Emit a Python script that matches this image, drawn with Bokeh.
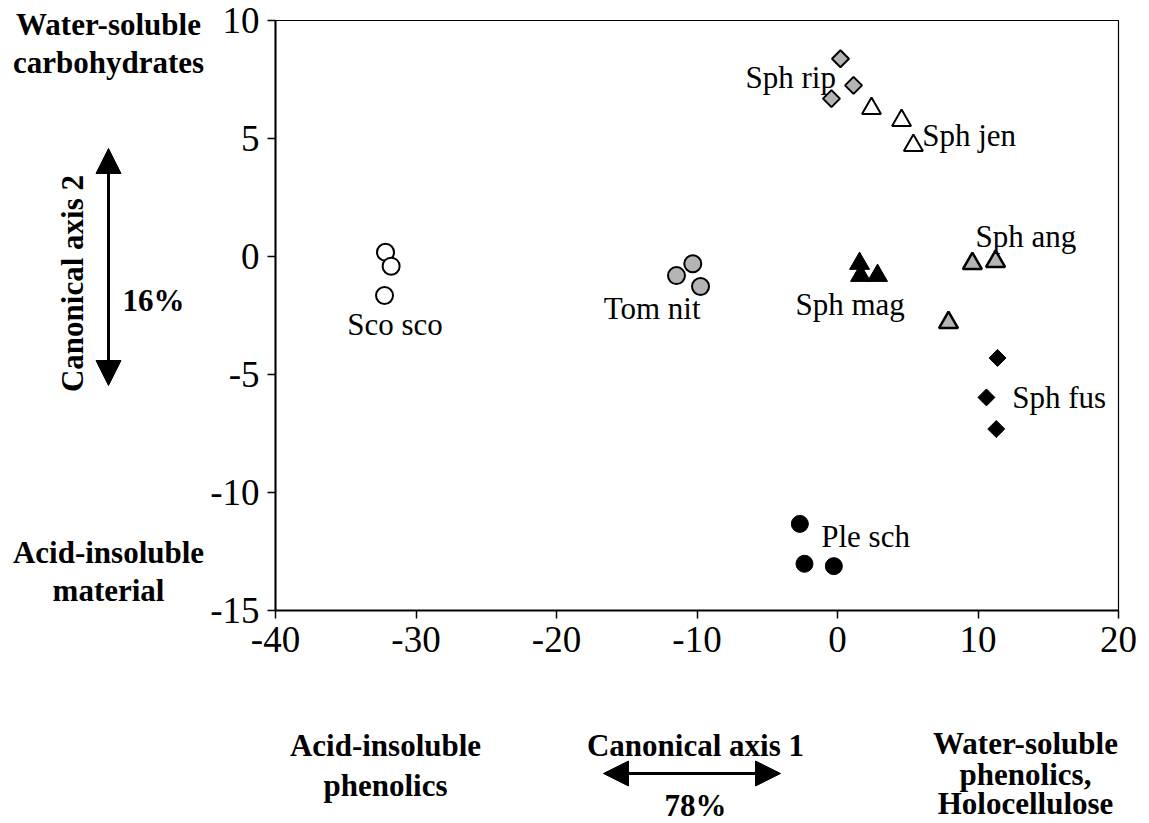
from bokeh.plotting import figure
from bokeh.layouts import column, row
from bokeh.models import (ColumnDataSource, Range1d, FixedTicker, Label, Arrow,
                          NormalHead)
from bokeh.core.properties import value
from bokeh.embed import file_html
from bokeh.resources import INLINE
import math

# Canonical scores per species (axis 1, axis 2)
sco_x = [-32.17, -31.77, -32.24]
sco_y = [0.18, -0.41, -1.65]
tom_x = [-10.3, -11.46, -9.75]
tom_y = [-0.31, -0.81, -1.27]
rip_x = [0.21, 1.14, -0.43]
rip_y = [8.38, 7.25, 6.69]
jen_x = [2.42, 4.56, 5.4]
jen_y = [6.27, 5.76, 4.70]
mag_x = [1.57, 1.64, 2.85]
mag_y = [-0.30, -0.81, -0.81]
ang_x = [9.6, 11.25, 7.9]
ang_y = [-0.30, -0.21, -2.8]
fus_x = [11.39, 10.6, 11.3]
fus_y = [-4.30, -5.97, -7.31]
ple_x = [-2.68, -2.35, -0.26]
ple_y = [-11.33, -13.02, -13.12]

# Species names and where each name is written
species = ["Sco sco", "Tom nit", "Sph rip", "Sph jen", "Sph mag",
           "Sph ang", "Sph fus", "Ple sch"]
name_x = [-34.9, -9.75, -6.55, 6.03, -2.99, 9.82, 12.43, -1.16]
name_y = [-2.88, -2.21, 7.59, 5.12, -2.03, 0.86, -5.97, -11.87]
name_align = ["left", "right", "left", "left", "left", "left", "left", "left"]

x_ticks = [-40, -30, -20, -10, 0, 10, 20]
y_ticks = [-15, -10, -5, 0, 5, 10]

SERIF = "Liberation Serif"
GRAY = "#b4b4b4"
LEFT_W = 205
TOP_H = 700
W, H = 1149, 823

# ---- main scatter plot -------------------------------------------------
p = figure(width=W - LEFT_W, height=TOP_H, output_backend="svg",
           toolbar_location=None,
           x_range=Range1d(-40, 20), y_range=Range1d(-15, 10),
           min_border_left=275 - LEFT_W, min_border_right=31,
           min_border_top=20, min_border_bottom=TOP_H - 610)
p.background_fill_color = "white"
p.border_fill_color = "white"
p.outline_line_color = "black"
p.outline_line_width = 1.2
p.xgrid.visible = False
p.ygrid.visible = False

for ax, ticks in ((p.xaxis[0], x_ticks), (p.yaxis[0], y_ticks)):
    ax.ticker = FixedTicker(ticks=ticks)
    ax.major_label_overrides = {t: str(t) for t in ticks}
    ax.axis_line_width = 2
    ax.axis_line_color = "black"
    ax.major_tick_in = 0
    ax.major_tick_out = 8
    ax.major_tick_line_width = 1.5
    ax.minor_tick_line_color = None
    ax.major_label_text_font = SERIF
    ax.major_label_text_font_size = "37px"
    ax.major_label_text_color = "black"
p.xaxis.major_label_standoff = 8
p.yaxis.major_label_standoff = 8

S = 17
p.scatter(sco_x, sco_y, marker="circle", size=S, fill_color="white",
          line_color="black", line_width=2)
p.scatter(tom_x, tom_y, marker="circle", size=S, fill_color=GRAY,
          line_color="black", line_width=2)
p.scatter(rip_x, rip_y, marker="square", angle=math.pi / 4, size=12,
          fill_color=GRAY, line_color="black", line_width=2)
p.scatter(jen_x, jen_y, marker="triangle", size=19, fill_color="white",
          line_color="black", line_width=2)
p.scatter(mag_x, mag_y, marker="triangle", size=20, fill_color="black",
          line_color="black", line_width=1)
p.scatter(ang_x, ang_y, marker="triangle", size=19, fill_color=GRAY,
          line_color="black", line_width=2.5)
p.scatter(fus_x, fus_y, marker="square", angle=math.pi / 4, size=12,
          fill_color="black", line_color="black", line_width=1)
p.scatter(ple_x, ple_y, marker="circle", size=S, fill_color="black",
          line_color="black", line_width=1)

names = ColumnDataSource(dict(x=name_x, y=name_y, t=species, a=name_align))
p.text(x="x", y="y", text="t", text_align="a", source=names,
       text_font=value(SERIF), text_font_size="31px", text_color="black",
       text_baseline="alphabetic")


# ---- text panels around the plot (pixel coordinates) -------------------
def panel(width, height, x0, y0):
    f = figure(width=width, height=height, output_backend="svg",
               toolbar_location=None, x_axis_location=None,
               y_axis_location=None, min_border=0,
               x_range=Range1d(x0, x0 + width),
               y_range=Range1d(y0 + height, y0))
    f.outline_line_color = None
    f.background_fill_color = "white"
    f.border_fill_color = "white"
    f.xgrid.visible = False
    f.ygrid.visible = False
    return f


def bold(f, x, y, text, angle=0.0):
    f.add_layout(Label(x=x, y=y, text=text, angle=angle, text_font=SERIF,
                       text_font_style="bold", text_font_size="31px",
                       text_align="center", text_baseline="middle",
                       text_color="black"))


def double_arrow(f, x0, y0, x1, y1):
    xm, ym = (x0 + x1) / 2, (y0 + y1) / 2
    for xe, ye in ((x0, y0), (x1, y1)):
        f.add_layout(Arrow(x_start=xm, y_start=ym, x_end=xe, y_end=ye,
                           line_width=3, line_color="black",
                           end=NormalHead(size=25, fill_color="black",
                                          line_color="black")))


left = panel(LEFT_W, TOP_H, 0, 0)
bold(left, 108, 24, "Water-soluble")
bold(left, 108, 62, "carbohydrates")
bold(left, 108, 552, "Acid-insoluble")
bold(left, 108, 590, "material")
bold(left, 72, 283, "Canonical axis 2", angle=math.pi / 2)
bold(left, 153, 300, "16%")
double_arrow(left, 108, 148, 108, 385)

bottom = panel(W, H - TOP_H, 0, TOP_H)
bold(bottom, 385, 745, "Acid-insoluble")
bold(bottom, 385, 785, "phenolics")
bold(bottom, 695, 745, "Canonical axis 1")
bold(bottom, 695, 805, "78%")
bold(bottom, 1025, 743, "Water-soluble")
bold(bottom, 1025, 774, "phenolics,")
bold(bottom, 1025, 803, "Holocellulose")
double_arrow(bottom, 603, 773, 780, 773)

# each panel keeps its own frame instead of lining up with its neighbours
for f in (left, p, bottom):
    if "frame_align" in f.properties():
        f.frame_align = False

layout = column(row(left, p), bottom)
open("out.html", "w").write(file_html(layout, INLINE))
